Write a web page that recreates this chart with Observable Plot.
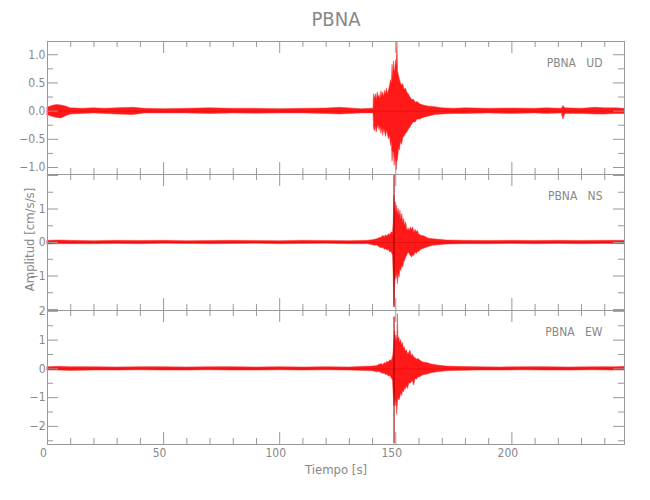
<!DOCTYPE html>
<html><head><meta charset="utf-8">
<script src="https://cdn.jsdelivr.net/npm/d3@7"></script>
<script src="https://cdn.jsdelivr.net/npm/@observablehq/plot@0.6"></script>
<style>
body{margin:0;background:#fff;}
#wrap{position:relative;width:650px;height:500px;overflow:hidden;font-family:"Liberation Sans Narrow","DejaVu Sans Condensed","Roboto",sans-serif;font-stretch:condensed;color:#888;}
#wrap .panel{position:absolute;left:0;}
#title{position:absolute;left:0;top:9px;width:672px;text-align:center;font-size:20px;line-height:20px;color:#888;}
</style></head><body>
<div id="wrap"><div id="title">PBNA</div></div>
<script>
// ---- data (envelopes) ----
const xMajor = [0, 50, 100, 150, 200];
const xMinor = [10,20,30,40,60,70,80,90,110,120,130,140,160,170,180,190,210,220,230,240];
const xLabels = ["0","50","100","150","200"];

// UD component
const udT  = [0,2,4,6,8,10,15,20,25,30,37,42,50,60,70,80,90,100,110,120,126,135,140,140.4,140.6,141.0,141.4,141.8,142.2,142.6,143.0,143.4,143.8,144.2,144.6,145.0,145.4,145.8,146.2,146.6,147.0,147.5,148.0,148.3,148.6,148.9,149.2,149.5,149.8,150.1,150.4,150.7,151.0,151.4,151.8,152.2,152.7,153.2,153.8,154.4,155.0,155.6,156.2,157,157.8,158.6,159.4,160.5,162,164,167,170,175,180,190,200,210,215,221.5,222.2,223,230,236,240,245,248.5];
const udHi = [0.06,0.09,0.11,0.1,0.08,0.05,0.04,0.05,0.04,0.05,0.06,0.04,0.035,0.04,0.05,0.04,0.04,0.035,0.04,0.045,0.06,0.035,0.04,0.04,0.3,0.22,0.3,0.2,0.33,0.24,0.28,0.22,0.35,0.27,0.33,0.25,0.36,0.3,0.4,0.3,0.36,0.45,0.55,0.5,0.82,0.6,0.88,0.7,0.75,0.9,0.8,1.22,0.7,0.62,0.55,0.5,0.45,0.48,0.38,0.4,0.32,0.3,0.25,0.2,0.2,0.15,0.16,0.12,0.1,0.08,0.07,0.05,0.04,0.05,0.04,0.045,0.04,0.05,0.04,0.09,0.05,0.04,0.06,0.05,0.05,0.04];
const udLo = [-0.07,-0.1,-0.12,-0.13,-0.09,-0.06,-0.05,-0.04,-0.05,-0.06,-0.07,-0.04,-0.04,-0.04,-0.05,-0.04,-0.045,-0.04,-0.04,-0.05,-0.06,-0.04,-0.04,-0.04,-0.3,-0.36,-0.28,-0.38,-0.3,-0.25,-0.34,-0.28,-0.4,-0.3,-0.44,-0.32,-0.38,-0.46,-0.35,-0.42,-0.5,-0.45,-0.62,-0.55,-0.9,-0.72,-0.75,-0.97,-0.8,-0.95,-1.05,-0.9,-0.85,-0.65,-0.7,-0.55,-0.6,-0.48,-0.45,-0.4,-0.38,-0.33,-0.3,-0.24,-0.2,-0.2,-0.15,-0.15,-0.12,-0.1,-0.07,-0.06,-0.05,-0.05,-0.04,-0.05,-0.04,-0.05,-0.04,-0.15,-0.05,-0.05,-0.06,-0.06,-0.05,-0.05];
const udMajor = [-1,-0.5,0,0.5,1];
const udMinor = [-0.75,-0.25,0.25,0.75];
const udLabels = [-1,-0.5,0,0.5,1];

// NS component
const nsT  = [0,5,10,20,30,40,50,60,70,80,90,100,110,120,130,138,140,141,142,143,144,144.6,145.2,145.8,146.4,147,147.6,148.2,148.8,149.1,149.4,149.7,150.0,150.3,150.6,150.9,151.2,151.6,152.0,152.4,152.8,153.2,153.6,154,154.5,155,155.5,156,156.5,157,157.5,158,158.5,159,159.5,160,161,162.5,164,166,169,172,180,190,200,210,220,230,240,248.5];
const nsHi = [0.05,0.06,0.05,0.04,0.05,0.045,0.05,0.04,0.045,0.05,0.045,0.04,0.05,0.045,0.04,0.05,0.07,0.08,0.1,0.13,0.15,0.2,0.16,0.22,0.18,0.25,0.22,0.3,0.28,0.6,1.4,1.0,1.2,0.9,1.1,0.85,1.0,0.8,0.95,0.7,0.85,0.6,0.7,0.5,0.6,0.35,0.42,0.35,0.45,0.38,0.45,0.3,0.38,0.3,0.35,0.25,0.2,0.18,0.12,0.1,0.08,0.06,0.05,0.045,0.05,0.045,0.05,0.045,0.05,0.05];
const nsLo = [-0.06,-0.05,-0.05,-0.05,-0.045,-0.05,-0.04,-0.045,-0.05,-0.045,-0.04,-0.05,-0.045,-0.04,-0.05,-0.05,-0.08,-0.1,-0.09,-0.14,-0.18,-0.16,-0.22,-0.2,-0.25,-0.22,-0.3,-0.28,-0.4,-1.0,-1.9,-1.3,-1.0,-1.1,-0.9,-1.25,-0.95,-1.05,-0.8,-0.85,-0.7,-0.75,-0.6,-0.55,-0.45,-0.38,-0.3,-0.35,-0.4,-0.45,-0.38,-0.4,-0.3,-0.35,-0.28,-0.28,-0.22,-0.18,-0.14,-0.1,-0.08,-0.06,-0.05,-0.05,-0.045,-0.05,-0.045,-0.05,-0.045,-0.05];
const nsMajor = [-2,-1,0,1,2];
const nsMinor = [-1.5,-0.5,0.5,1.5];
const nsLabels = [-1,0,1];

// EW component
const ewT  = [0,5,10,20,30,40,50,60,70,80,90,100,110,120,130,140,141,142,143,144,144.6,145.2,145.8,146.4,147,147.6,148.2,148.8,149.1,149.4,149.7,150.0,150.3,150.6,150.9,151.1,151.5,151.9,152.3,152.7,153.1,153.5,153.9,154.3,154.8,155.3,155.8,156.3,156.8,157.3,157.9,158.5,159.1,159.7,160.5,161.3,162,163.6,165.5,168,172,176,185,195,205,215,225,235,245,248.5];
const ewHi = [0.06,0.07,0.06,0.06,0.05,0.06,0.06,0.05,0.06,0.06,0.05,0.06,0.05,0.06,0.05,0.08,0.09,0.1,0.14,0.17,0.13,0.2,0.18,0.25,0.22,0.3,0.27,0.4,0.6,1.0,1.3,1.0,1.16,0.95,1.9,1.05,1.1,0.9,1.0,0.8,0.9,0.7,0.75,0.6,0.65,0.5,0.55,0.64,0.45,0.5,0.4,0.38,0.32,0.35,0.29,0.25,0.22,0.2,0.15,0.12,0.08,0.07,0.06,0.05,0.06,0.06,0.05,0.06,0.06,0.07];
const ewLo = [-0.06,-0.06,-0.07,-0.06,-0.06,-0.05,-0.06,-0.06,-0.05,-0.06,-0.06,-0.05,-0.06,-0.05,-0.06,-0.08,-0.1,-0.12,-0.11,-0.15,-0.18,-0.16,-0.22,-0.2,-0.27,-0.25,-0.32,-0.42,-0.9,-1.3,-1.0,-1.3,-1.1,-1.6,-1.2,-1.0,-1.1,-1.04,-0.85,-0.95,-0.78,-0.82,-0.7,-0.72,-0.6,-0.7,-0.5,-0.52,-0.48,-0.42,-0.58,-0.35,-0.38,-0.3,-0.29,-0.25,-0.22,-0.2,-0.15,-0.12,-0.08,-0.07,-0.06,-0.06,-0.05,-0.06,-0.06,-0.05,-0.06,-0.06];
const ewMajor = [-2,-1,0,1,2];
const ewMinor = [-2.5,-1.5,-0.5,0.5,1.5];
const ewLabels = [-2,-1,0,1,2];

// dark single spikes (time, top, bottom)
const nsSpike = {t: [149.25], hi: [2.0], lo: [-1.95]};
const ewSpike = {t: [149.25], hi: [1.8], lo: [-2.6]};

const station = "PBNA";
const comps = ["UD", "NS", "EW"];

// ---- drawing ----
const W = 650, ML = 47, MR = 26;
const inner = W - ML - MR;
const AX = "#999";
const font = '"Liberation Sans Narrow","DejaVu Sans Condensed","Roboto",sans-serif';

function panel({top, h, domain, t, hi, lo, major, minor, labels, fmt, comp, spike, xAxis, yLabel}) {
  const data = t.map((d, i) => ({t: d, hi: hi[i], lo: lo[i]}));
  const mb = xAxis ? 56 : 0;
  const marks = [
    Plot.areaY(data, {x: "t", y1: "lo", y2: "hi", fill: "#ff0000", fillOpacity: 0.9, stroke: "#ff3030", strokeWidth: 0.5, curve: "linear"}),
    Plot.ruleY([0], {stroke: "#c80000", strokeWidth: 0.8, strokeOpacity: 0.5})
  ];
  if (spike) {
    const sd = spike.t.map((d, i) => ({t: d, hi: spike.hi[i], lo: spike.lo[i]}));
    marks.push(Plot.ruleX(sd, {x: "t", y1: "lo", y2: "hi", stroke: "#a00000", strokeWidth: 1.1}));
  }
  marks.push(
    Plot.frame({stroke: AX}),
    Plot.tickX(xMajor, {x: d => d, insetBottom: h - 12, stroke: AX}),
    Plot.tickX(xMajor, {x: d => d, insetTop: h - 12, stroke: AX}),
    Plot.tickX(xMinor, {x: d => d, insetBottom: h - 6, stroke: AX}),
    Plot.tickX(xMinor, {x: d => d, insetTop: h - 6, stroke: AX}),
    Plot.tickY(major, {y: d => d, insetRight: inner - 11, stroke: AX}),
    Plot.tickY(major, {y: d => d, insetLeft: inner - 11, stroke: AX}),
    Plot.tickY(minor, {y: d => d, insetRight: inner - 6, stroke: AX}),
    Plot.tickY(minor, {y: d => d, insetLeft: inner - 6, stroke: AX}),
    Plot.axisY({ticks: labels, tickSize: 0, tickPadding: 2, tickFormat: fmt, label: null, fontSize: 12}),
    Plot.text([`${station}\u00a0\u00a0\u00a0${comp}`], {frameAnchor: "top-right", textAnchor: "end", lineAnchor: "middle", dx: -22, dy: 22, fill: "#888", fontSize: 12})
  );
  if (xAxis) {
    marks.push(
      Plot.axisX({ticks: xMajor, tickSize: 0, tickPadding: 4, dx: -4, tickFormat: d => xLabels[xMajor.indexOf(d)], label: null, fontSize: 12}),
      Plot.text(["Tiempo [s]"], {frameAnchor: "bottom", lineAnchor: "middle", dy: 25, fill: "#888", fontSize: 13})
    );
  }
  if (yLabel) {
    marks.push(Plot.text([yLabel], {frameAnchor: "left", textAnchor: "middle", lineAnchor: "middle", rotate: -90, dx: -18, dy: -3, fill: "#888", fontSize: 13}));
  }
  const svg = Plot.plot({
    width: W, height: h + mb,
    marginLeft: ML, marginRight: MR, marginTop: 0, marginBottom: mb,
    x: {domain: [0, 248.5], axis: null},
    y: {domain, axis: null},
    style: {fontFamily: font, fontSize: "12px", color: "#888", overflow: "visible", background: "transparent"},
    marks
  });
  const div = document.createElement("div");
  div.className = "panel";
  div.style.top = top + "px";
  div.appendChild(svg);
  document.getElementById("wrap").appendChild(div);
}

panel({top: 41, h: 133, domain: [-1.124, 1.235], t: udT, hi: udHi, lo: udLo, major: udMajor, minor: udMinor, labels: udLabels, fmt: d3.format(".1f"), comp: comps[0]});
panel({top: 174, h: 136, domain: [-2.03, 2.03], t: nsT, hi: nsHi, lo: nsLo, major: nsMajor, minor: nsMinor, labels: nsLabels, fmt: d3.format("d"), comp: comps[1], spike: nsSpike, yLabel: "Amplitud [cm/s/s]"});
panel({top: 310, h: 134, domain: [-2.63, 2.03], t: ewT, hi: ewHi, lo: ewLo, major: ewMajor, minor: ewMinor, labels: ewLabels, fmt: d3.format("d"), comp: comps[2], spike: ewSpike, xAxis: true});
</script>
</body></html>
